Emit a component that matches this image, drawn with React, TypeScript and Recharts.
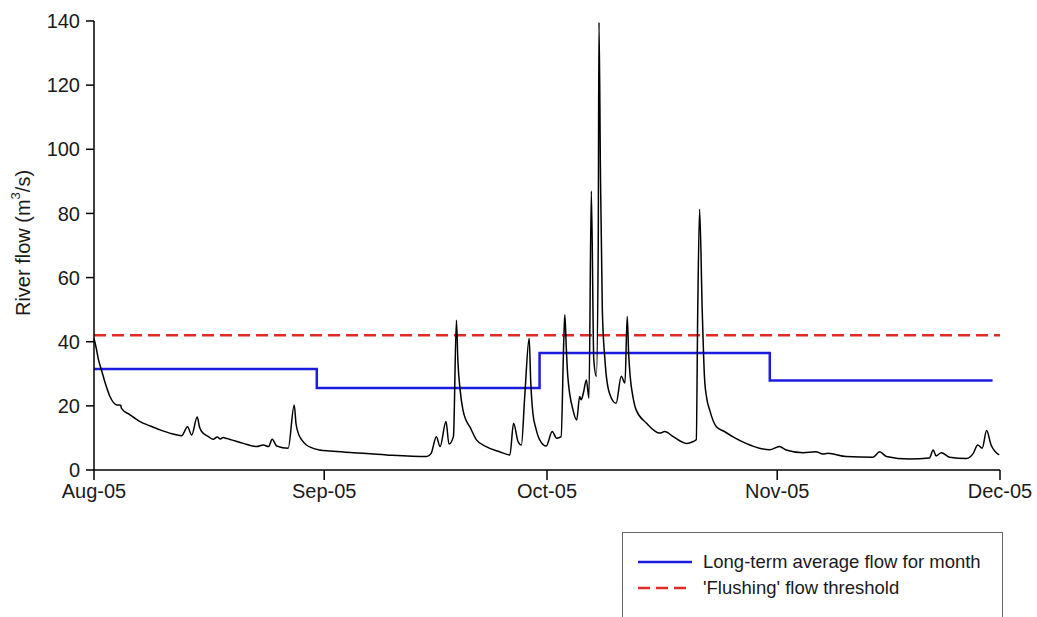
import React from "react";
import {
  LineChart,
  Line,
  XAxis,
  YAxis,
  ReferenceLine,
} from "recharts";

// days since 1 Aug 2005
const flowDays = [
  0, 0.3, 0.6, 1.0, 1.5, 2.15, 3.05, 3.6, 3.7, 4.85, 6.2, 7.5, 8.9, 10.5, 11.8, 12.6,
  13.15, 13.9, 14.2, 14.5, 15.4, 16.05, 16.6, 17.0, 17.4, 17.9, 18.5, 20.1, 21.9, 22.8,
  23.5, 24.0, 24.6, 26.15, 26.96, 27.2, 27.5, 28.0, 28.6, 30.4, 31.8, 34.9, 39.4, 44.8,
  45.4, 46.1, 46.6, 47.4, 47.8, 48.4, 48.8, 49.0, 49.3, 49.7, 50.1, 50.6, 51.5, 52.8,
  54.6, 56.0, 56.5, 57.1, 57.55, 58.0, 58.6, 58.8, 59.1, 59.5, 60.0, 60.9, 61.7, 62.3,
  62.9, 63.25, 63.4, 63.6, 63.8, 64.5, 65.0, 65.4, 65.6, 65.9, 66.3, 66.65, 66.97,
  67.3, 67.65, 67.9, 68.0, 68.2, 68.45, 68.8, 69.4, 70.3, 71.0, 71.5, 71.8, 72.0, 72.2,
  72.6, 73.0, 74.4, 76.2, 76.85, 78.0, 79.8, 80.7, 81.1, 81.3, 81.55, 81.9, 82.2, 82.5,
  82.9, 83.8, 84.9, 86.0, 87.8, 89.6, 91.0, 92.3, 93.2, 95.5, 97.2, 98.15, 98.8, 101.3,
  104.9, 105.8, 106.7, 109.8, 112.5, 113.0, 113.4, 114.1, 115.2, 117.5, 118.4, 119.0,
  119.6, 120.2, 120.8, 121.9,
];

const flowValues = [
  41, 38, 34.4, 31.2, 27.2, 22.9, 20.3, 20.2, 19.2, 17.2, 15.1, 13.8, 12.5, 11.3, 10.7,
  13.5, 10.9, 16.5, 13.5, 12.0, 10.4, 9.6, 10.3, 9.7, 10.1, 9.8, 9.4, 8.3, 7.3, 7.8,
  7.3, 9.6, 7.5, 6.8, 20.3, 14.5, 11.5, 9.3, 7.8, 6.25, 5.9, 5.4, 4.7, 4.2,
  5.2, 10.4, 7.3, 15.1, 8.1, 10.4, 46.7, 34, 25, 18.5, 15.5, 13.5, 9.4, 7.3,
  5.7, 4.7, 14.6, 8.9, 7.8, 22.9, 41.1, 28, 17.7, 13, 9.5, 7.5, 12.0, 9.9,
  10.4, 39.7, 48.4, 38, 29.2, 18.75, 15.6, 22.9, 21.9, 24, 28.1, 22.4, 87,
  34.4, 29.2, 70.8, 139.6, 91.7, 50, 34.4, 24, 20.8, 29.2, 27.1, 47.9, 36, 29.2,
  22.5, 18.75, 14.6, 11.5, 12.0, 10.4, 8.3, 8.9, 9.4, 50, 81.3, 50, 29.2, 22.5,
  18.75, 13.5, 12, 10.4, 8.3, 6.8, 6.3, 7.3, 6.25, 5.4, 5.7, 5.0, 5.2, 4.2,
  4.0, 5.7, 4.2, 3.4, 3.75, 6.25, 4.4, 5.4, 4.0, 3.6, 5.2, 7.8,
  6.8, 12.3, 7.8, 4.7,
];

// long-term monthly average (step changes)
const avgDays = [0, 30, 60, 91, 121];
const avgValues = [31.5, 25.6, 36.5, 27.9, 27.9];

const flushingThreshold = 42;

const monthTicks = [0, 31, 61, 92, 122];
const monthLabels = ["Aug-05", "Sep-05", "Oct-05", "Nov-05", "Dec-05"];
const yTicks = [0, 20, 40, 60, 80, 100, 120, 140];

const flowData = flowDays.map((d, i) => ({ day: d, flow: flowValues[i] }));
const avgData = avgDays.map((d, i) => ({ day: d, avg: avgValues[i] }));

const FONT = "'Liberation Sans', Arial, sans-serif";
const BLUE = "#1c1ce0";
const RED = "#e02a24";

const YLabel = () => (
  <text
    x={23}
    y={243}
    transform="rotate(-90 23 243)"
    textAnchor="middle"
    dominantBaseline="central"
    fontFamily={FONT}
    fontSize={20}
    fill="#1a1a1a"
  >
    River flow (m
    <tspan dy={-8} fontSize={13}>3</tspan>
    <tspan dy={8}>/s)</tspan>
  </text>
);

export default function App() {
  return (
    <div style={{ position: "relative", width: 1037, height: 617, overflow: "hidden", background: "#fff" }}>
      <style>{"body{margin:0}"}</style>
      <LineChart
        width={1037}
        height={617}
        margin={{ top: 21, right: 37, bottom: 107, left: 34 }}
      >
        <XAxis
          dataKey="day"
          type="number"
          domain={[0, 122]}
          ticks={monthTicks}
          tickFormatter={(v: number) => monthLabels[monthTicks.indexOf(v)]}
          height={40}
          tickSize={10}
          tickMargin={4}
          axisLine={{ stroke: "#000", strokeWidth: 1.5 }}
          tickLine={{ stroke: "#000", strokeWidth: 1.5 }}
          tick={{ fill: "#1a1a1a", fontSize: 20, fontFamily: FONT }}
          allowDuplicatedCategory={false}
        />
        <YAxis
          type="number"
          domain={[0, 140]}
          ticks={yTicks}
          width={60}
          tickSize={8}
          tickMargin={6}
          axisLine={{ stroke: "#000", strokeWidth: 1.5 }}
          tickLine={{ stroke: "#000", strokeWidth: 1.5 }}
          tick={{ fill: "#1a1a1a", fontSize: 20, fontFamily: FONT }}
          label={<YLabel />}
        />
        <ReferenceLine
          y={flushingThreshold}
          stroke={RED}
          strokeWidth={2.5}
          strokeDasharray="12 6"
        />
        <Line
          data={avgData}
          dataKey="avg"
          type="stepAfter"
          stroke={BLUE}
          strokeWidth={2.5}
          dot={false}
          isAnimationActive={false}
        />
        <Line
          data={flowData}
          dataKey="flow"
          type="monotone"
          stroke="#000"
          strokeWidth={1.5}
          dot={false}
          isAnimationActive={false}
        />
      </LineChart>
      <div
        style={{
          position: "absolute",
          left: 622,
          top: 532,
          width: 379,
          height: 120,
          border: "1px solid #666",
          background: "#fff",
          fontFamily: FONT,
          fontSize: 18.5,
          color: "#1a1a1a",
        }}
      >
        <svg width={70} height={60} style={{ position: "absolute", left: 0, top: 0 }}>
          <line x1={15} y1={29} x2={69} y2={29} stroke={BLUE} strokeWidth={2.5} />
          <line x1={15} y1={55} x2={69} y2={55} stroke={RED} strokeWidth={2.5} strokeDasharray="12 6" />
        </svg>
        <div style={{ position: "absolute", left: 80, top: 18, whiteSpace: "nowrap", lineHeight: "22px" }}>
          Long-term average flow for month
        </div>
        <div style={{ position: "absolute", left: 80, top: 44, whiteSpace: "nowrap", lineHeight: "22px" }}>
          'Flushing' flow threshold
        </div>
      </div>
    </div>
  );
}
